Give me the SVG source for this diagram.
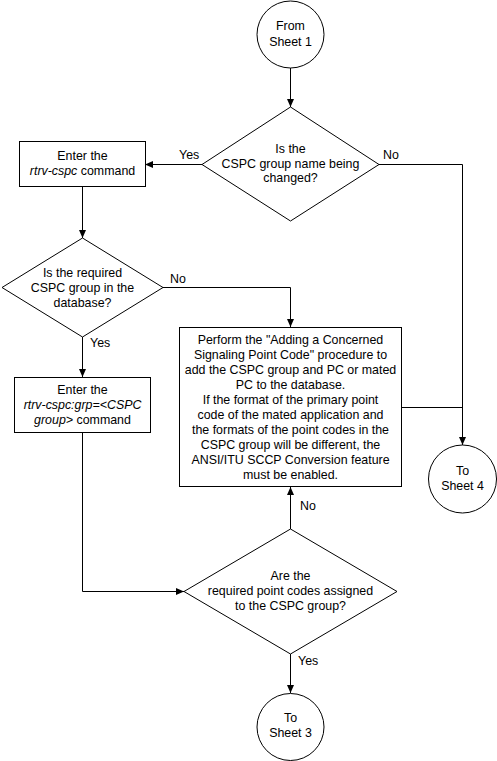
<svg xmlns="http://www.w3.org/2000/svg" width="497" height="761" viewBox="0 0 497 761">
<style>
.s{fill:#fff;stroke:#000;stroke-width:1}
.c{fill:none;stroke:#000;stroke-width:1}
text{font-family:"Liberation Sans",Arial,sans-serif;font-size:12.4px;fill:#000}
.m{text-anchor:middle}
.i{font-style:italic}
</style>
<defs>
<marker id="a" markerUnits="userSpaceOnUse" markerWidth="9" markerHeight="8" refX="8" refY="3.5" orient="auto">
<path d="M0,0 L8,3.5 L0,7 z" fill="#000"/>
</marker>
</defs>
<rect width="497" height="761" fill="#fff"/>
<g id="connectors">
<path class="c" d="M290.5,68 V107" marker-end="url(#a)"/>
<path class="c" d="M202,164.5 H145" marker-end="url(#a)"/>
<path class="c" d="M379,164.5 H462.5 V445" marker-end="url(#a)"/>
<path class="c" d="M82.5,186 V238" marker-end="url(#a)"/>
<path class="c" d="M163,287.5 H290.5 V327" marker-end="url(#a)"/>
<path class="c" d="M82.5,337 V377" marker-end="url(#a)"/>
<path class="c" d="M401,407.5 H462.5"/>
<path class="c" d="M82.5,433 V591.5 H184" marker-end="url(#a)"/>
<path class="c" d="M290.5,529 V487" marker-end="url(#a)"/>
<path class="c" d="M290.5,654 V693" marker-end="url(#a)"/>
<text x="179" y="158.5">Yes</text>
<text x="383" y="158.5">No</text>
<text x="170" y="282.5">No</text>
<text x="90" y="347">Yes</text>
<text x="300" y="509.5">No</text>
<text x="298" y="665">Yes</text>
</g>
<g id="from1">
<circle class="s" cx="290.5" cy="34.5" r="33.5"/>
<text class="m" x="290.5" y="30">From</text>
<text class="m" x="290.5" y="46">Sheet 1</text>
</g>
<g id="dec1">
<polygon class="s" points="290.5,107 379,164.5 290.5,221 202,164.5"/>
<text class="m" x="290.5" y="153">Is the</text>
<text class="m" x="290.5" y="167.5">CSPC group name being</text>
<text class="m" x="290.5" y="182">changed?</text>
</g>
<g id="box1">
<rect class="s" x="19.5" y="141.5" width="126" height="45"/>
<text class="m" x="82.5" y="160">Enter the</text>
<text class="m" x="82.5" y="175"><tspan class="i">rtrv-cspc</tspan> command</text>
</g>
<g id="dec2">
<polygon class="s" points="82.5,238 163,287.5 82.5,337 2,287.5"/>
<text class="m" x="82.5" y="276.5">Is the required</text>
<text class="m" x="82.5" y="291.5">CSPC group in the</text>
<text class="m" x="82.5" y="306.5">database?</text>
</g>
<g id="box3">
<rect class="s" x="14.5" y="377.5" width="136" height="55"/>
<text class="m" x="82.5" y="394">Enter the</text>
<text class="m i" x="82.5" y="409">rtrv-cspc:grp=&lt;CSPC</text>
<text class="m" x="82.5" y="423.5"><tspan class="i">group&gt;</tspan> command</text>
</g>
<g id="box2">
<rect class="s" x="179.5" y="327.5" width="222" height="159"/>
<text class="m" x="290.5" y="343.5">Perform the "Adding a Concerned</text>
<text class="m" x="290.5" y="358.5">Signaling Point Code" procedure to</text>
<text class="m" x="290.5" y="373.5">add the CSPC group and PC or mated</text>
<text class="m" x="290.5" y="388.5">PC to the database.</text>
<text class="m" x="290.5" y="403.5">If the format of the primary point</text>
<text class="m" x="290.5" y="418.5">code of the mated application and</text>
<text class="m" x="290.5" y="433.5">the formats of the point codes in the</text>
<text class="m" x="290.5" y="448.5">CSPC group will be different, the</text>
<text class="m" x="290.5" y="463.5">ANSI/ITU SCCP Conversion feature</text>
<text class="m" x="290.5" y="478.5">must be enabled.</text>
</g>
<g id="to4">
<circle class="s" cx="462.5" cy="479" r="34"/>
<text class="m" x="462.5" y="475">To</text>
<text class="m" x="462.5" y="490">Sheet 4</text>
</g>
<g id="dec3">
<polygon class="s" points="290.5,529 397,591.5 290.5,654 184,591.5"/>
<text class="m" x="290.5" y="580">Are the</text>
<text class="m" x="290.5" y="595">required point codes assigned</text>
<text class="m" x="290.5" y="610">to the CSPC group?</text>
</g>
<g id="to3">
<circle class="s" cx="290.5" cy="727" r="33.5"/>
<text class="m" x="290.5" y="722">To</text>
<text class="m" x="290.5" y="737">Sheet 3</text>
</g>
</svg>
